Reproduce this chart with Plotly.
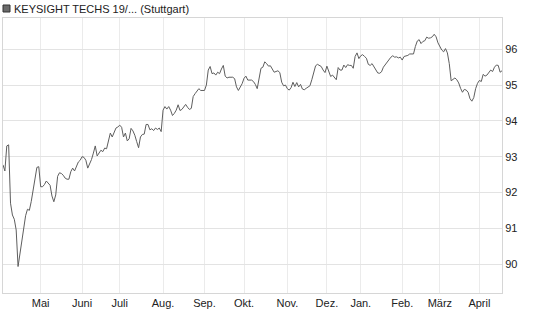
import pandas as pd
import plotly.graph_objects as go

# trading days (Börse Stuttgart), Apr 2024 - Apr 2025
start_date = "2024-04-03"
end_date = "2025-04-17"
holidays = ["2024-05-01", "2024-12-24", "2024-12-25", "2024-12-26",
            "2024-12-31", "2025-01-01"]

values = [
    92.77, 92.6, 93.3, 93.33, 91.7, 91.37, 91.25, 90.95, 89.93, 90.3,
    90.75, 91.05, 91.35, 91.53, 91.5, 91.75, 92.1, 92.44, 92.7, 92.72,
    92.16, 92.16, 92.22, 92.32, 92.25, 92.2, 91.9, 91.74, 91.93, 92.45,
    92.55, 92.53, 92.48, 92.4, 92.37, 92.37, 92.58, 92.68, 92.6, 92.75,
    92.85, 92.9, 93.0, 92.98, 92.9, 92.68, 92.8, 92.92, 93.1, 93.3,
    93.02, 93.1, 93.18, 93.14, 93.24, 93.22, 93.48, 93.66, 93.55, 93.7,
    93.8, 93.83, 93.88, 93.82, 93.55, 93.66, 93.44, 93.5, 93.79, 93.72,
    93.6, 93.42, 93.25, 93.55, 93.62, 93.63, 93.9, 93.9, 93.75, 93.78,
    93.73, 93.8, 93.76, 93.8, 93.7, 94.3, 94.4, 94.33, 94.4, 94.3,
    94.15, 94.21, 94.3, 94.45, 94.29, 94.32, 94.38, 94.46, 94.38, 94.32,
    94.35, 94.68, 94.76, 94.85, 94.9, 94.85, 94.84, 94.85, 95.0, 95.42,
    95.52, 95.32, 95.34, 95.28, 95.36, 95.32, 95.45, 95.55, 95.25, 95.2,
    95.22, 95.22, 95.22, 95.18, 94.95, 94.85, 94.94, 95.04, 95.19, 95.25,
    95.14, 95.14, 95.14, 95.1, 95.02, 94.9, 95.2, 95.47, 95.5, 95.65,
    95.6, 95.53, 95.54, 95.45, 95.36, 95.38, 95.4, 95.35, 95.08, 94.98,
    95.0, 94.9, 94.86, 94.93, 95.08, 94.96, 95.07, 94.95, 95.02, 94.89,
    94.87, 94.91, 94.95, 94.98, 95.15, 95.35, 95.54, 95.58, 95.54, 95.52,
    95.42, 95.35, 95.53, 95.4, 95.24, 95.28, 95.2, 95.15, 95.49, 95.42,
    95.42, 95.56, 95.49, 95.57, 95.55, 95.55, 95.47, 95.8, 95.9, 95.74,
    95.82, 95.85, 95.8, 95.75, 95.58, 95.55, 95.6, 95.52, 95.42, 95.34,
    95.33, 95.37, 95.5, 95.57, 95.65, 95.72, 95.78, 95.82, 95.78, 95.79,
    95.76, 95.78, 95.7, 95.8, 95.81, 95.83, 95.87, 95.88, 95.87, 96.08,
    96.23, 96.27, 96.16, 96.22, 96.24, 96.34, 96.31, 96.32, 96.35, 96.42,
    96.35, 96.18, 96.07, 95.98, 95.93, 96.02, 95.9, 95.6, 95.12, 95.15,
    95.2, 95.15, 95.06, 94.91, 94.8, 94.88, 94.86, 94.8, 94.62, 94.55,
    94.65, 94.9, 95.05, 95.13, 95.1, 95.3, 95.25, 95.28, 95.37, 95.42,
    95.38, 95.5, 95.56, 95.55, 95.36, 95.4,
]

month_labels = ["Mai", "Juni", "Juli", "Aug.", "Sep.", "Okt.", "Nov.",
                "Dez.", "Jan.", "Feb.", "März", "April"]
y_ticks = [90, 91, 92, 93, 94, 95, 96]
series_name = "KEYSIGHT TECHS 19/... (Stuttgart)"

days = pd.bdate_range(start_date, end_date)
days = days[~days.isin(pd.to_datetime(holidays))]
n = min(len(days), len(values))
days = days[:n]
values = values[:n]
dates = [d.strftime("%Y-%m-%d") for d in days]

# first trading day of each month (from May on)
s = pd.Series(days, index=days)
firsts = s.groupby([days.year, days.month]).min().tolist()[1:]
tick_vals = [d.strftime("%Y-%m-%d") for d in firsts][:len(month_labels)]

FONT = "Liberation Sans, Arial, sans-serif"

fig = go.Figure()
fig.add_trace(go.Scatter(
    x=dates, y=values, mode="lines",
    line=dict(color="#5e5e5e", width=1),
    name=series_name, showlegend=False, hoverinfo="x+y",
))

W, H = 545, 327
L, R, T, B = 3, 43, 18, 34
pw, ph = W - L - R, H - T - B

fig.update_layout(
    width=W, height=H,
    margin=dict(l=L, r=R, t=T, b=B, pad=0),
    paper_bgcolor="white", plot_bgcolor="white",
    font=dict(family=FONT, size=11, color="#222222"),
    xaxis=dict(
        type="category", range=[0, n - 1],
        tickmode="array", tickvals=tick_vals, ticktext=month_labels,
        showgrid=True, gridcolor="#ebebeb", gridwidth=1,
        showline=True, mirror=True, linecolor="#d6d6d6", linewidth=1,
        ticks="", zeroline=False,
        tickfont=dict(family=FONT, size=11, color="#222222"),
    ),
    yaxis=dict(
        side="right", range=[89.19, 96.875],
        tickmode="array", tickvals=y_ticks,
        ticktext=[str(v) for v in y_ticks],
        showgrid=True, gridcolor="#e3e3e3", gridwidth=1,
        showline=True, mirror=True, linecolor="#d6d6d6", linewidth=1,
        ticks="", zeroline=False,
        tickfont=dict(family=FONT, size=11, color="#222222"),
    ),
    shapes=[dict(
        type="rect", xref="paper", yref="paper",
        x0=(3 - L) / pw, x1=(10 - L) / pw,
        y0=(H - B - 12) / ph, y1=(H - B - 5) / ph,
        fillcolor="#6b6b6b", line=dict(color="#333333", width=1),
    )],
    annotations=[dict(
        text=series_name, xref="paper", yref="paper",
        x=(13 - L) / pw, y=(H - B - 8.5) / ph,
        xanchor="left", yanchor="middle", showarrow=False,
        font=dict(family=FONT, size=11, color="#222222"),
        borderpad=0,
    )],
)

fig.write_html("out.html")
